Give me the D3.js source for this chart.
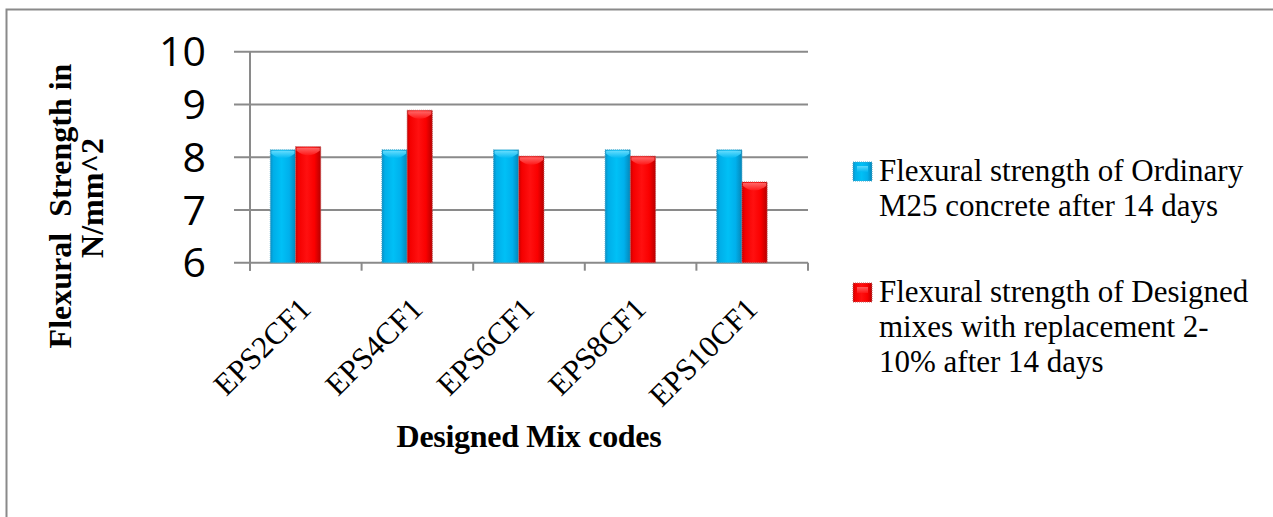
<!DOCTYPE html>
<html>
<head>
<meta charset="utf-8">
<script src="https://cdn.jsdelivr.net/npm/d3@7"></script>
<style>
  html, body { margin: 0; padding: 0; background: #fff; }
  svg { display: block; }
</style>
</head>
<body>
<svg id="chart" width="1273" height="517"></svg>
<script>
// ---- data ----
const categories = ["EPS2CF1", "EPS4CF1", "EPS6CF1", "EPS8CF1", "EPS10CF1"];
const ordinaryValues = [8.14, 8.14, 8.14, 8.14, 8.14];
const designedValues = [8.2, 8.89, 8.02, 8.02, 7.53];
const seriesNames = [
  ["Flexural strength of Ordinary", "M25 concrete after 14 days"],
  ["Flexural strength of Designed", "mixes with replacement 2-", "10% after 14 days"]
];
const yTicks = [6, 7, 8, 9, 10];
const yTitleLines = ["Flexural  Strength in ", "N/mm^2"];
const xTitle = "Designed Mix codes";

// ---- layout ----
const svg = d3.select("#chart");
const plot = { left: 250, right: 808, top: 51.7, bottom: 262.7 };
const gridColor = "#8a8a8a";

const x = d3.scaleBand().domain(categories).range([plot.left, plot.right]).paddingInner(0).paddingOuter(0);
const y = d3.scaleLinear().domain([6, 10]).range([plot.bottom, plot.top]);

// outer frame
svg.append("rect")
  .attr("x", 6.5).attr("y", 9.5)
  .attr("width", 1300).attr("height", 600)
  .attr("fill", "none").attr("stroke", gridColor).attr("stroke-width", 2);

// gradients
const defs = svg.append("defs");
function hGrad(id, stops) {
  const g = defs.append("linearGradient").attr("id", id)
    .attr("x1", "0%").attr("x2", "100%").attr("y1", "0%").attr("y2", "0%");
  stops.forEach(s => g.append("stop").attr("offset", s[0]).attr("stop-color", s[1]));
}
hGrad("gBlue", [["0%", "#0a8fc4"], ["12%", "#00aee8"], ["45%", "#00c0f6"], ["75%", "#00b0ec"], ["100%", "#0586b8"]]);
hGrad("gRed", [["0%", "#c80000"], ["12%", "#f40000"], ["45%", "#ff1010"], ["75%", "#fa0000"], ["100%", "#b80000"]]);
function vGrad(id, c1, c2) {
  const g = defs.append("linearGradient").attr("id", id)
    .attr("x1", "0%").attr("x2", "0%").attr("y1", "0%").attr("y2", "100%");
  g.append("stop").attr("offset", "0%").attr("stop-color", c1);
  g.append("stop").attr("offset", "100%").attr("stop-color", c2);
}
vGrad("capBlue", "#6fe0ff", "#00b8f2");
vGrad("capRed", "#ff7070", "#ff1a1a");

// gridlines (with left tick extension)
svg.append("g").selectAll("line").data(yTicks).join("line")
  .attr("x1", plot.left - 16).attr("x2", plot.right)
  .attr("y1", d => y(d)).attr("y2", d => y(d))
  .attr("stroke", gridColor).attr("stroke-width", 2);

// y axis line
svg.append("line")
  .attr("x1", plot.left).attr("x2", plot.left)
  .attr("y1", plot.top).attr("y2", plot.bottom + 8)
  .attr("stroke", gridColor).attr("stroke-width", 2);

// x ticks at category boundaries
const boundaries = categories.map(c => x(c)).concat([plot.right]);
svg.append("g").selectAll("line").data(boundaries).join("line")
  .attr("x1", d => d).attr("x2", d => d)
  .attr("y1", plot.bottom).attr("y2", plot.bottom + 8)
  .attr("stroke", gridColor).attr("stroke-width", 2);

// y tick labels
svg.append("g").selectAll("text").data(yTicks).join("text")
  .attr("x", 206).attr("y", d => y(d))
  .attr("dy", "0.36em")
  .attr("text-anchor", "end")
  .attr("font-family", "'Open Sans', 'Noto Sans', sans-serif")
  .attr("font-size", 41)
  .attr("fill", "#000")
  .text(d => d);

// bars
const bw = x.bandwidth();
const groupOffset = 0.182 * bw;
const barW = 0.226 * bw;
const series = [
  { values: ordinaryValues, fill: "url(#gBlue)", cap: "url(#capBlue)", edge: "#4aa6c8" },
  { values: designedValues, fill: "url(#gRed)", cap: "url(#capRed)", edge: "#c06060" }
];
series.forEach((s, si) => {
  const g = svg.append("g");
  const data = categories.map((c, i) => ({ c, v: s.values[i] }));
  const bx = d => x(d.c) + groupOffset + si * barW;
  g.selectAll("rect.bar").data(data).join("rect")
    .attr("class", "bar")
    .attr("x", bx).attr("y", d => y(d.v))
    .attr("width", barW).attr("height", d => y(6) - y(d.v))
    .attr("fill", s.fill)
    .attr("stroke", s.edge).attr("stroke-width", 1).attr("stroke-dasharray", "1,1");
  // rounded top cap highlight
  g.selectAll("path.cap").data(data).join("path")
    .attr("class", "cap")
    .attr("d", d => {
      const x0 = bx(d) + 1, x1 = bx(d) + barW - 1, t = y(d.v) + 1;
      const mx = (x0 + x1) / 2;
      return `M${x0},${t} L${x1},${t} L${x1},${t + 3} Q${mx},${t + 12} ${x0},${t + 3} Z`;
    })
    .attr("fill", s.cap).attr("opacity", 0.9);
});

// x labels rotated
svg.append("g").selectAll("text").data(categories).join("text")
  .attr("transform", d => `translate(${x(d) + bw / 2 + 7},${plot.bottom + 48}) rotate(-45)`)
  .attr("text-anchor", "end")
  .attr("font-family", "'Liberation Serif', 'Times New Roman', serif")
  .attr("font-size", 31)
  .attr("fill", "#000")
  .text(d => d);

// x title
svg.append("text")
  .attr("x", (plot.left + plot.right) / 2).attr("y", 447)
  .attr("text-anchor", "middle")
  .attr("font-family", "'Liberation Serif', 'Times New Roman', serif")
  .attr("font-weight", "bold")
  .attr("font-size", 32)
  .attr("letter-spacing", -0.3)
  .attr("fill", "#000")
  .text(xTitle);

// y title (two lines)
const yTitlePos = [[71, 202], [103, 198]];
svg.append("g").selectAll("text").data(yTitleLines).join("text")
  .attr("transform", (d, i) => `translate(${yTitlePos[i][0]},${yTitlePos[i][1]}) rotate(-90)`)
  .attr("text-anchor", "middle")
  .attr("font-family", "'Liberation Serif', 'Times New Roman', serif")
  .attr("font-weight", "bold")
  .attr("font-size", 32)
  .attr("fill", "#000")
  .attr("xml:space", "preserve")
  .style("white-space", "pre")
  .text(d => d);

// legend
const legendMarkers = [
  { y: 162, fill: "url(#gBlue)", cap: "url(#capBlue)", edge: "#4aa6c8" },
  { y: 283, fill: "url(#gRed)", cap: "url(#capRed)", edge: "#c06060" }
];
const lg = svg.append("g");
seriesNames.forEach((lines, i) => {
  const m = legendMarkers[i];
  lg.append("rect")
    .attr("x", 853).attr("y", m.y).attr("width", 19).attr("height", 19)
    .attr("fill", m.fill).attr("stroke", m.edge).attr("stroke-width", 1).attr("stroke-dasharray", "1,1");
  lg.append("rect")
    .attr("x", 857).attr("y", m.y + 4).attr("width", 11).attr("height", 6)
    .attr("fill", m.cap).attr("opacity", 0.8);
  const t = lg.append("text")
    .attr("font-family", "'Liberation Serif', 'Times New Roman', serif")
    .attr("font-size", 31)
    .attr("fill", "#000");
  lines.forEach((ln, j) => {
    t.append("tspan").attr("x", 879).attr("y", m.y + 19 + j * 35).text(ln);
  });
});
</script>
</body>
</html>
